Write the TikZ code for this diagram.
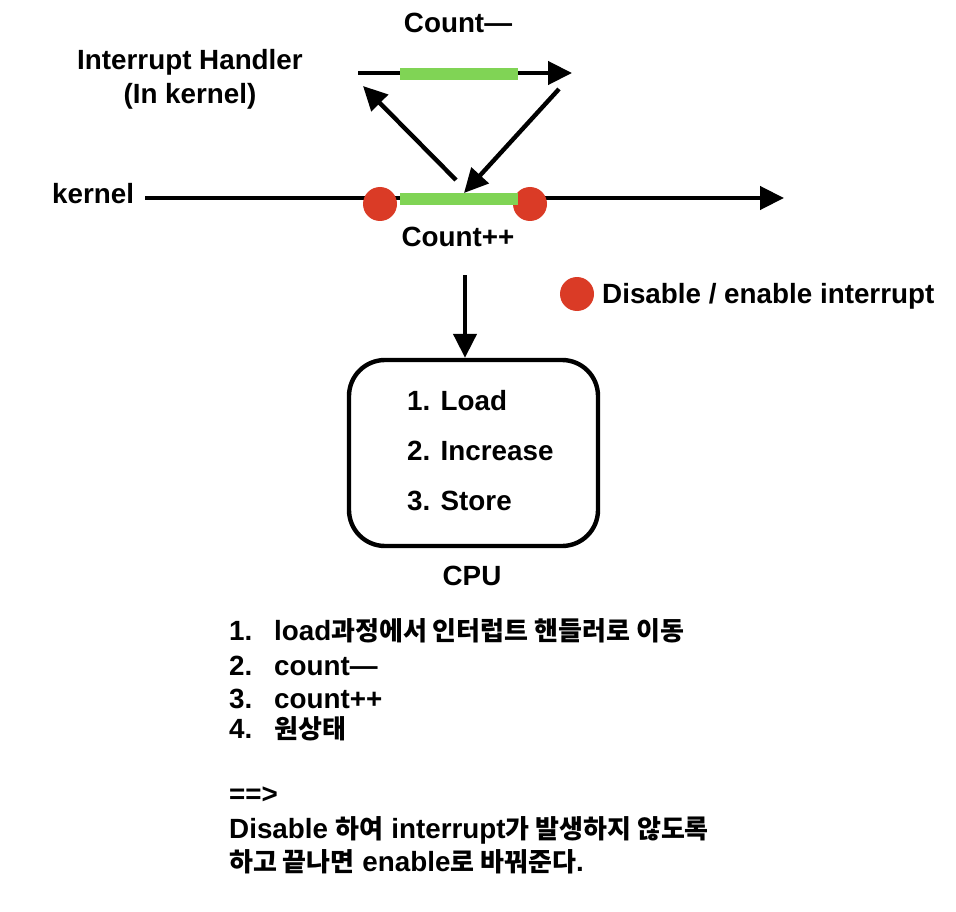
\documentclass[tikz,border=0pt]{standalone}
\usepackage{fontspec}
\setmainfont{Liberation Sans}
\newfontfamily\kr[Scale=0.935]{Noto Sans CJK KR Bold}
\usetikzlibrary{arrows.meta}
\definecolor{reddot}{HTML}{DA3B26}
\definecolor{greenbar}{HTML}{80D455}
\begin{document}
\begin{tikzpicture}[x=1pt,y=-1pt,
  font=\fontsize{27.8}{32}\selectfont\bfseries,
  ln/.style={line width=4.4pt},
  arr/.style={ln,-{Triangle[length=24pt,width=23pt]}},
  dot/.style={circle,fill=reddot,minimum size=34pt,inner sep=0pt},
  gbar/.style={fill=greenbar,minimum width=118pt,minimum height=12pt,inner sep=0pt},
  lbl/.style={inner sep=0pt}]
\useasboundingbox (0,0) rectangle (956,912);
% top (interrupt handler) line
\coordinate (ts) at (358,73);
\coordinate (te) at (572,73);
\draw[arr] (ts) -- (te);
\node[gbar] (gtop) at (459,74) {};
\node[lbl,anchor=base] (cm) at (458,33) {Count—};
\node[lbl,anchor=base] (ih1) at (190,70) {Interrupt Handler};
\node[lbl,anchor=base] (ih2) at (190,104) {(In kernel)};
% kernel line
\node[lbl,anchor=base west] (kl) at (52,204) {kernel};
\coordinate (ks) at (145,198);
\coordinate (ke) at (784,198);
\draw[arr] (ks) -- (ke);
\node[dot] (d1) at (380,204) {};
\node[dot] (d2) at (530,204) {};
\node[gbar] (gbot) at (459,199.5) {};
\node[lbl,anchor=base] (cp) at (458,247) {Count++};
% diagonal arrows
\coordinate (a1s) at (456,180);
\coordinate (a1e) at (363,86);
\draw[arr] (a1s) -- (a1e);
\coordinate (a2s) at (559,89);
\coordinate (a2e) at (464,193);
\draw[arr] (a2s) -- (a2e);
% legend
\node[dot] (ld) at (577,294) {};
\node[lbl,anchor=base west] (lt) at (602,303) {Disable / enable interrupt};
% CPU
\node[draw,line width=4.4pt,rounded corners=36pt,minimum width=249pt,minimum height=186pt,inner sep=0pt] (cpu) at (473.5,453) {};
\coordinate (ds) at (465,275);
\draw[arr] (ds) -- (cpu.north -| ds);
\node[lbl,anchor=base west] (s1) at (407,410) {1. Load};
\node[lbl,anchor=base west] (s2) at (407,460) {2. Increase};
\node[lbl,anchor=base west] (s3) at (407,510) {3. Store};
\node[lbl,anchor=base] (cpul) at (472,585) {CPU};
% list
\node[lbl,anchor=base west] (n1) at (229,640) {1.};
\node[lbl,anchor=base west] (t1) at (274,640) {load{\kr 과정에서 인터럽트 핸들러로 이동}};
\node[lbl,anchor=base west] (n2) at (229,675) {2.};
\node[lbl,anchor=base west] (t2) at (274,675) {count—};
\node[lbl,anchor=base west] (n3) at (229,708) {3.};
\node[lbl,anchor=base west] (t3) at (274,708) {count++};
\node[lbl,anchor=base west] (n4) at (229,738) {4.};
\node[lbl,anchor=base west] (t4) at (274,738) {\kr 원상태};
\node[lbl,anchor=base west] (ar) at (229,803) {==>};
\node[lbl,anchor=base west] (c1) at (229,838) {Disable {\kr 하여} interrupt{\kr 가 발생하지 않도록}};
\node[lbl,anchor=base west] (c2) at (229,871) {{\kr 하고 끝나면} enable{\kr 로 바꿔준다}.};
\end{tikzpicture}
\end{document}
